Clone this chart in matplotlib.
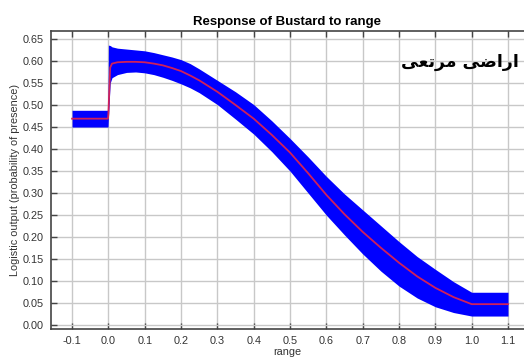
import numpy as np
import matplotlib
matplotlib.use('Agg')
import matplotlib.pyplot as plt

title = 'Response of Bustard to range'
x_label = 'range'
y_label = 'Logistic output (probability of presence)'
note = 'اراضی مرتعی'

x_vals = [-0.1, -0.001, 0.0, 0.005, 0.01, 0.025, 0.05, 0.075, 0.1, 0.125, 0.15, 0.175, 0.2, 0.225,
          0.25, 0.3, 0.35, 0.4, 0.45, 0.5, 0.55, 0.6, 0.65, 0.7, 0.75, 0.8, 0.85, 0.9, 0.95, 1.0, 1.1]
mean_vals = [0.469, 0.469, 0.48, 0.585, 0.594, 0.597, 0.598, 0.598, 0.597, 0.594, 0.590, 0.584, 0.577, 0.567,
             0.556, 0.530, 0.500, 0.469, 0.432, 0.392, 0.345, 0.296, 0.252, 0.212, 0.176, 0.142, 0.111, 0.085,
             0.064, 0.048, 0.048]
upper_vals = [0.488, 0.488, 0.636, 0.635, 0.632, 0.629, 0.627, 0.625, 0.623, 0.619, 0.614, 0.609, 0.603, 0.594,
              0.582, 0.556, 0.530, 0.501, 0.464, 0.424, 0.382, 0.338, 0.298, 0.262, 0.226, 0.190, 0.156, 0.127,
              0.099, 0.075, 0.075]
lower_vals = [0.45, 0.45, 0.47, 0.55, 0.562, 0.569, 0.574, 0.575, 0.573, 0.569, 0.563, 0.556, 0.548, 0.539,
              0.528, 0.501, 0.468, 0.434, 0.394, 0.350, 0.300, 0.250, 0.205, 0.162, 0.123, 0.089, 0.062, 0.042,
              0.029, 0.021, 0.021]
x_ticks = [-0.1, 0.0, 0.1, 0.2, 0.3, 0.4, 0.5, 0.6, 0.7, 0.8, 0.9, 1.0, 1.1]
y_ticks = [0.0, 0.05, 0.1, 0.15, 0.2, 0.25, 0.3, 0.35, 0.4, 0.45, 0.5, 0.55, 0.6, 0.65]

# presentation forms: isolated, final, initial, medial
FORMS = {
    'ا': ('\uFE8D', '\uFE8E', None, None),
    'ر': ('\uFEAD', '\uFEAE', None, None),
    'ض': ('\uFEBD', '\uFEBE', '\uFEBF', '\uFEC0'),
    'م': ('\uFEE1', '\uFEE2', '\uFEE3', '\uFEE4'),
    'ت': ('\uFE95', '\uFE96', '\uFE97', '\uFE98'),
    'ع': ('\uFEC9', '\uFECA', '\uFECB', '\uFECC'),
    'ی': ('\uFBFC', '\uFBFD', '\uFBFE', '\uFBFF'),
}

def shape(s):  # simple arabic shaping, matplotlib doesn't do it
    out = []
    for i, c in enumerate(s):
        if c not in FORMS:
            out.append(c)
            continue
        p = s[i-1] if i > 0 else ''
        n = s[i+1] if i < len(s)-1 else ''
        jp = p in FORMS and FORMS[p][2] is not None
        jn = n in FORMS and FORMS[c][2] is not None
        if jp and jn:
            out.append(FORMS[c][3])
        elif jp:
            out.append(FORMS[c][1])
        elif jn:
            out.append(FORMS[c][2])
        else:
            out.append(FORMS[c][0])
    return ''.join(out[::-1])

plt.rcParams['font.family'] = ['Liberation Sans', 'DejaVu Sans']

fig = plt.figure(figsize=(5.24, 3.6), dpi=100)
ax = fig.add_axes([0.0973, 0.0861, 0.9027, 0.8278])

ax.fill_between(x_vals, lower_vals, upper_vals, color='#0000ff', linewidth=0, zorder=2)
ax.plot(x_vals, mean_vals, color='#d0205a', linewidth=1.3, zorder=3)

ax.set_xlim(-0.158, 1.144)
ax.set_ylim(-0.0084, 0.668)
ax.set_xticks(x_ticks)
ax.set_yticks(y_ticks)
ax.set_xticklabels(['%.1f' % v for v in x_ticks])
ax.set_yticklabels(['%.2f' % v for v in y_ticks])
ax.grid(True, color='#c8c8c8', linewidth=1, zorder=0)
ax.set_axisbelow(True)
ax.tick_params(direction='in', length=4, width=1, color='#444444', labelcolor='#333333',
               labelsize=7.8, top=True, pad=5)
for s in ['left', 'bottom', 'top']:
    ax.spines[s].set_color('#444444')
    ax.spines[s].set_linewidth(1.2)
ax.spines['right'].set_visible(False)

ax.set_title(title, fontsize=9.5, fontweight='bold', pad=4)
ax.set_xlabel(x_label, fontsize=7.8, color='#333333', labelpad=1)
ax.set_ylabel(y_label, fontsize=7.8, color='#333333', labelpad=2)

ax.text(0.969, 0.598, shape(note), fontsize=12.5, fontweight='bold', family='DejaVu Sans',
        ha='center', va='center', color='black', zorder=5)

plt.savefig('out.png', dpi=100)
